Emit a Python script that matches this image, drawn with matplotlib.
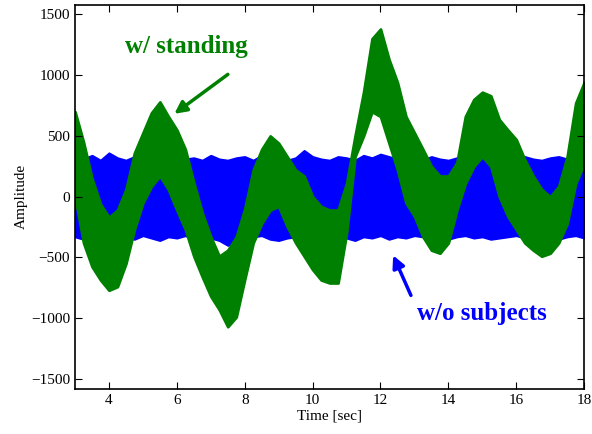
import numpy as np
import matplotlib
matplotlib.use('Agg')
import matplotlib.pyplot as plt

time = np.arange(3.0, 18.001, 0.25)

# w/o subjects: upper / lower envelope of the blue noise band
blue_hi = [330, 310, 340, 300, 360, 320, 300, 330, 310, 350, 300, 330,
           360, 310, 320, 300, 340, 310, 300, 320, 330, 300, 340, 310,
           350, 300, 320, 380, 330, 310, 300, 330, 320, 300, 340, 320,
           350, 330, 310, 360, 320, 300, 330, 310, 300, 320, 350, 330,
           310, 300, 340, 320, 300, 330, 310, 300, 320, 330, 310, 300, 320]
blue_lo = [-330, -350, -320, -360, -340, -310, -330, -350, -320, -340, -360, -330,
           -340, -320, -350, -330, -340, -360, -400, -380, -340, -330, -320, -350,
           -360, -340, -330, -320, -340, -350, -330, -320, -340, -360, -330, -340,
           -320, -350, -330, -340, -320, -330, -340, -360, -350, -330, -320, -340,
           -330, -350, -340, -330, -320, -340, -360, -330, -340, -350, -330, -320, -340]

# w/ standing: upper / lower envelope of the green band
green_hi = [700, 450, 150, -60, -170, -110, 60, 360, 525, 690, 780, 660,
            550, 390, 115, -135, -330, -490, -440, -330, -100, 220, 390, 500,
            440, 330, 220, 170, 0, -80, -110, -110, 110, 500, 860, 1300,
            1380, 1130, 940, 660, 525, 390, 250, 170, 170, 280, 660, 800,
            860, 830, 635, 550, 470, 305, 170, 60, 0, 85, 330, 770, 940]
green_lo = [0, -380, -575, -685, -770, -740, -550, -270, -50, 85, 170, 60,
            -110, -270, -490, -660, -820, -930, -1070, -990, -680, -380, -220, -110,
            -80, -245, -380, -490, -600, -685, -710, -710, -300, 330, 500, 700,
            660, 440, 220, -50, -160, -330, -440, -465, -380, -110, 110, 250,
            330, 250, 0, -160, -270, -380, -440, -490, -465, -380, -220, 110, 270]

plt.rcParams['font.family'] = ['Liberation Serif', 'DejaVu Serif']

fig = plt.figure(figsize=(5.92, 4.34), dpi=100)
ax = fig.add_axes([0.1267, 0.1044, 0.86, 0.8848])

ax.fill_between(time, blue_lo, blue_hi, facecolor='#0000ff', edgecolor='#0000ff', lw=1.5)
ax.fill_between(time, green_lo, green_hi, facecolor='#008000', edgecolor='#008000', lw=2)

ax.set_xlim(3, 18)
ax.set_ylim(-1580, 1580)
ax.set_xticks(range(4, 19, 2))
ax.set_yticks(range(-1500, 1501, 500))
ax.tick_params(direction='in', top=True, right=True, length=5, labelsize=11)
for s in ax.spines.values():
    s.set_linewidth(1.2)

ax.set_xlabel('Time [sec]', fontsize=11, labelpad=2)
ax.set_ylabel('Amplitude', fontsize=11, labelpad=2)

ax.annotate('w/ standing', xy=(5.86, 670), xytext=(6.27, 1240),
            color='#008000', fontsize=18, fontweight='bold', ha='center', va='center')
ax.annotate('', xy=(5.86, 668), xytext=(7.57, 1020),
            arrowprops=dict(arrowstyle='-|>', color='#008000', lw=2.5, mutation_scale=18))
ax.annotate('w/o subjects', xy=(12.34, -460), xytext=(15.0, -965),
            color='#0000ff', fontsize=18, fontweight='bold', ha='center', va='center')
ax.annotate('', xy=(12.34, -462), xytext=(12.93, -833),
            arrowprops=dict(arrowstyle='-|>', color='#0000ff', lw=2.5, mutation_scale=18))

fig.savefig('out.png', dpi=100)
